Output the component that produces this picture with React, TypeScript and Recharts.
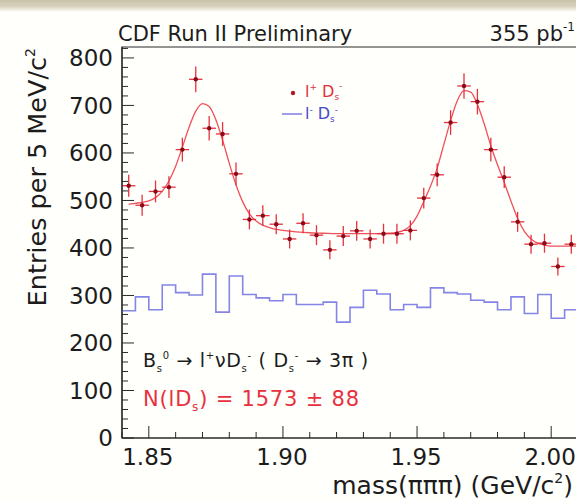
import React from 'react';
import { ComposedChart, Line, Scatter, XAxis, YAxis, ErrorBar, ReferenceArea } from 'recharts';

// ---- data ----
const binCenters = [
  1.8425, 1.8475, 1.8525, 1.8575, 1.8625, 1.8675, 1.8725, 1.8775, 1.8825, 1.8875,
  1.8925, 1.8975, 1.9025, 1.9075, 1.9125, 1.9175, 1.9225, 1.9275, 1.9325, 1.9375,
  1.9425, 1.9475, 1.9525, 1.9575, 1.9625, 1.9675, 1.9725, 1.9775, 1.9825, 1.9875,
  1.9925, 1.9975, 2.0025, 2.0075,
];
const rightSignCounts = [
  531, 490, 519, 528, 607, 755, 652, 640, 556, 460,
  468, 450, 419, 452, 427, 396, 425, 436, 419, 430,
  430, 437, 505, 554, 664, 741, 708, 607, 549, 455,
  408, 410, 361, 408,
];
const rightSignErrors = [
  23, 22, 23, 23, 25, 27, 26, 25, 24, 21,
  22, 21, 20, 21, 21, 20, 21, 21, 20, 21,
  21, 21, 22, 24, 26, 27, 27, 25, 23, 21,
  20, 20, 19, 20,
];
const binHalfWidth = 0.0025;
const binEdges = [
  1.84, 1.845, 1.85, 1.855, 1.86, 1.865, 1.87, 1.875, 1.88, 1.885,
  1.89, 1.895, 1.9, 1.905, 1.91, 1.915, 1.92, 1.925, 1.93, 1.935,
  1.94, 1.945, 1.95, 1.955, 1.96, 1.965, 1.97, 1.975, 1.98, 1.985,
  1.99, 1.995, 2.0, 2.005, 2.01,
];
const wrongSignCounts = [
  268, 297, 270, 322, 306, 301, 345, 265, 341, 302,
  295, 289, 302, 281, 281, 286, 244, 275, 311, 303,
  270, 281, 275, 316, 306, 303, 290, 286, 270, 297,
  262, 302, 252, 270,
];
const fitX = [
  1.8425, 1.845, 1.8475, 1.85, 1.8525, 1.855, 1.8575, 1.86, 1.8625, 1.865,
  1.8675, 1.87, 1.8725, 1.875, 1.8775, 1.88, 1.8825, 1.885, 1.8875, 1.89,
  1.8925, 1.895, 1.8975, 1.9, 1.905, 1.91, 1.915, 1.92, 1.925, 1.93,
  1.935, 1.94, 1.9425, 1.945, 1.9475, 1.95, 1.9525, 1.955, 1.9575, 1.96,
  1.9625, 1.965, 1.9675, 1.97, 1.9725, 1.975, 1.9775, 1.98, 1.9825, 1.985,
  1.9875, 1.99, 1.9925, 1.995, 1.9975, 2.0, 2.005, 2.01,
];
const fitY = [
  492, 494, 496, 499, 506, 519, 541, 572, 612, 654,
  688, 704, 698, 670, 627, 578, 533, 497, 472, 457,
  448, 443, 439, 437, 434, 432, 431, 430, 430, 430,
  430, 431, 433, 437, 447, 467, 498, 530, 568, 618,
  668, 710, 731, 728, 702, 662, 615, 575, 538, 499,
  462, 435, 419, 410, 406, 404, 404, 404,
];
const xTicks = [1.84, 1.85, 1.86, 1.87, 1.88, 1.89, 1.9, 1.91, 1.92, 1.93, 1.94, 1.95, 1.96, 1.97, 1.98, 1.99, 2.0, 2.01];
const xMajorTicks = [1.85, 1.9, 1.95, 2.0];
const yTicks = [
  0, 20, 40, 60, 80, 100, 120, 140, 160, 180, 200, 220, 240, 260, 280, 300, 320, 340, 360, 380,
  400, 420, 440, 460, 480, 500, 520, 540, 560, 580, 600, 620, 640, 660, 680, 700, 720, 740, 760, 780, 800, 820,
];
const yMajorTicks = [0, 100, 200, 300, 400, 500, 600, 700, 800];

// ---- derived tables ----
const pointData = binCenters.map((x, i) => ({ x, y: rightSignCounts[i], ey: rightSignErrors[i], ex: binHalfWidth }));
const histData = binEdges.map((x, i) => ({ x, y: wrongSignCounts[Math.min(i, wrongSignCounts.length - 1)] }));
const fitData = fitX.map((x, i) => ({ x, y: fitY[i] }));

const FONT = '"DejaVu Sans", "Liberation Sans", Arial, sans-serif';
const AXIS = '#2a2a2a';
const INK = '#1c1c1c';

const XTick = (props: any) => {
  const { x, y, payload } = props;
  const v = payload.value as number;
  const major = xMajorTicks.some((m) => Math.abs(m - v) < 1e-6);
  return (
    <g>
      <line x1={x} y1={y} x2={x} y2={y - (major ? 12 : 6)} stroke={AXIS} strokeWidth={1} />
      {major && (
        <text x={x - 1} y={y + 27} textAnchor="middle" fontSize={23} fontFamily={FONT} fill={INK}>
          {v.toFixed(2)}
        </text>
      )}
    </g>
  );
};

const YTick = (props: any) => {
  const { x, y, payload } = props;
  const v = payload.value as number;
  const major = yMajorTicks.includes(v);
  return (
    <g>
      <line x1={x} y1={y} x2={x + (major ? 12 : 6)} y2={y} stroke={AXIS} strokeWidth={1} />
      {major && (
        <text x={x - 9} y={y} dy="0.36em" textAnchor="end" fontSize={23} fontFamily={FONT} fill={INK}>
          {v}
        </text>
      )}
    </g>
  );
};

export default function App() {
  return (
    <div
      style={{
        position: 'absolute',
        left: 0,
        top: 0,
        width: 576,
        height: 502,
        overflow: 'hidden',
        background: '#fffffb',
      }}
    >
      <div
        style={{
          position: 'absolute',
          left: 0,
          top: 0,
          width: 576,
          height: 12,
          background: 'linear-gradient(#c9c2a7, #d9d3bf 55%, #fffffb)',
        }}
      />
      <div style={{ position: 'absolute', left: 0, top: 0 }}>
        <ComposedChart width={578} height={502} margin={{ top: 47, right: 0, bottom: 0, left: 0 }}>
          <XAxis
            dataKey="x"
            type="number"
            domain={[1.84, 2.01]}
            allowDataOverflow
            ticks={xTicks}
            interval={0}
            tickSize={0}
            tickMargin={0}
            height={64}
            tickLine={false}
            axisLine={{ stroke: AXIS, strokeWidth: 1.2 }}
            tick={(p: any) => <XTick {...p} />}
          />
          <YAxis
            type="number"
            domain={[0, 823]}
            allowDataOverflow
            ticks={yTicks}
            interval={0}
            tickSize={0}
            tickMargin={0}
            width={122}
            tickLine={false}
            axisLine={{ stroke: AXIS, strokeWidth: 1.2 }}
            tick={(p: any) => <YTick {...p} />}
          />
          <ReferenceArea x1={1.84} x2={2.01} y1={0} y2={823} fill="none" stroke={AXIS} strokeWidth={1.2} ifOverflow="visible" />
          <Line
            data={histData}
            dataKey="y"
            type="stepAfter"
            stroke="#8585e8"
            strokeWidth={1.6}
            dot={false}
            isAnimationActive={false}
          />
          <Line
            data={fitData}
            dataKey="y"
            type="monotone"
            stroke="#f0505c"
            strokeWidth={1.3}
            dot={false}
            isAnimationActive={false}
          />
          <Scatter
            data={pointData}
            dataKey="y"
            isAnimationActive={false}
            shape={(p: any) => <circle cx={p.cx} cy={p.cy} r={2.2} fill="#8a0a18" />}
          >
            <ErrorBar dataKey="ey" direction="y" width={0} stroke="#e8303e" strokeWidth={1.3} />
            <ErrorBar dataKey="ex" direction="x" width={0} stroke="#e8303e" strokeWidth={1.3} />
          </Scatter>
        </ComposedChart>
      </div>
      <svg
        width={576}
        height={502}
        style={{ position: 'absolute', left: 0, top: 0, pointerEvents: 'none' }}
        fontFamily={FONT}
      >
        <text x={118} y={41} fontSize={21} fill={INK}>CDF Run II Preliminary</text>
        <text x={575} y={41} fontSize={21} fill={INK} textAnchor="end">
          355 pb<tspan dy={-10} fontSize={12}>-1</tspan>
        </text>
        <text transform="translate(46, 48) rotate(-90)" textAnchor="end" fontSize={25.5} fill={INK}>
          Entries per 5 MeV/c<tspan dy={-11} fontSize={14}>2</tspan>
        </text>
        <text x={573} y={494} textAnchor="end" fontSize={25} fill={INK}>
          mass(πππ) (GeV/c<tspan dy={-11} fontSize={14}>2</tspan><tspan dy={11}>)</tspan>
        </text>
        {/* legend */}
        <circle cx={293} cy={93} r={2.2} fill="#b01828" />
        <text x={305} y={97} fontSize={16} fill="#e03040">
          l<tspan dy={-7} fontSize={9}>+</tspan><tspan dy={7}> D</tspan><tspan dy={3} fontSize={9}>s</tspan>
          <tspan dy={-11} fontSize={9}>-</tspan>
        </text>
        <line x1={282} y1={114} x2={302} y2={114} stroke="#8585e8" strokeWidth={1.6} />
        <text x={305} y={119} fontSize={16} fill="#4848cc">
          l<tspan dy={-6} fontSize={9}>-</tspan><tspan dy={6}> D</tspan><tspan dy={3} fontSize={9}>s</tspan>
          <tspan dy={-9} fontSize={9}>-</tspan>
        </text>
        {/* annotations */}
        <text x={143} y={367} fontSize={19} fill={INK} letterSpacing={0.7}>
          B<tspan dy={5} fontSize={10}>s</tspan><tspan dy={-13} fontSize={10}>0</tspan>
          <tspan dy={8}> → l</tspan><tspan dy={-8} fontSize={10}>+</tspan><tspan dy={8}>νD</tspan>
          <tspan dy={5} fontSize={10}>s</tspan><tspan dy={-13} fontSize={10}>-</tspan>
          <tspan dy={8}> ( D</tspan><tspan dy={5} fontSize={10}>s</tspan><tspan dy={-13} fontSize={10}>-</tspan>
          <tspan dy={8}> → 3π )</tspan>
        </text>
        <text x={143} y={406} fontSize={21} fill="#e83040" letterSpacing={0.8}>
          N(lD<tspan dy={5} fontSize={12}>s</tspan><tspan dy={-5}>) = 1573 ± 88</tspan>
        </text>
      </svg>
    </div>
  );
}
